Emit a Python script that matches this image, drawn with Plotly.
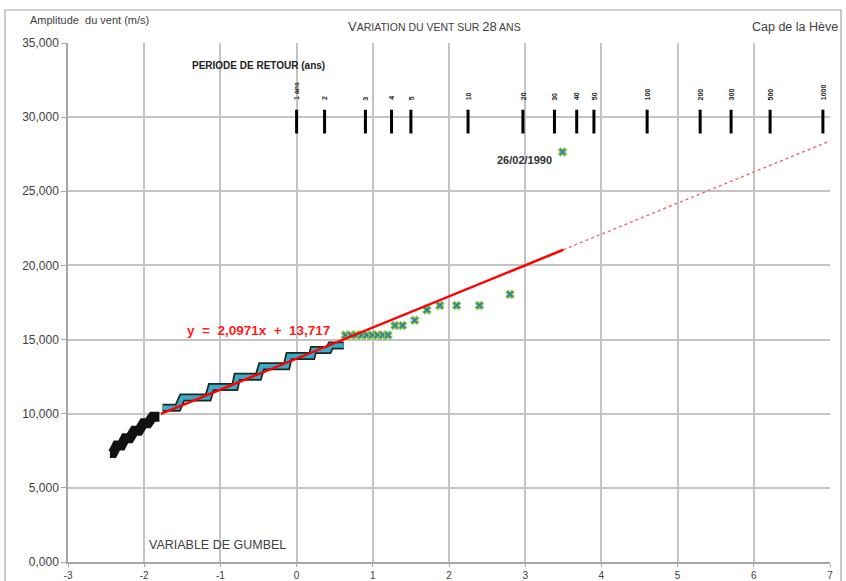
import plotly.graph_objects as go

# ---- data ----
# dense lower staircase (black band)
black_x0 = [-2.45, -2.36, -2.25, -2.13, -2.01, -1.89]
black_x1 = [-2.41, -2.30, -2.19, -2.07, -1.95, -1.80]
black_y = [7.35, 7.85, 8.35, 8.85, 9.35, 9.8]

# middle staircase (cyan band)
cyan_x0 = [-1.76, -1.50, -1.12, -0.78, -0.46, -0.10, 0.22, 0.45]
cyan_x1 = [-1.56, -1.16, -0.81, -0.50, -0.13, 0.20, 0.42, 0.62]
cyan_y = [10.4, 11.1, 11.8, 12.5, 13.2, 13.9, 14.3, 14.6]

# individual upper points
pts_x = [0.64, 0.71, 0.78, 0.85, 0.92, 0.99, 1.06, 1.13, 1.20,
         1.29, 1.39, 1.55, 1.71, 1.88, 2.10, 2.40, 2.80, 3.49]
pts_y = [15.3, 15.3, 15.3, 15.3, 15.3, 15.3, 15.3, 15.3, 15.3,
         15.95, 15.95, 16.3, 17.0, 17.3, 17.3, 17.3, 18.05, 27.65]

# trend line y = a x + b
trend_a = 2.0971
trend_b = 13.717
trend_solid_x = [-1.78, 3.5]
trend_dash_x = [3.5, 7.0]

# return periods (years) and their Gumbel-variable positions
rp_labels = ["1 ans", "2", "3", "4", "5", "10", "20", "30", "40", "50",
             "100", "200", "300", "500", "1000"]
rp_pos = [0.0, 0.367, 0.903, 1.246, 1.500, 2.250, 2.970, 3.384, 3.676,
          3.902, 4.600, 5.296, 5.702, 6.214, 6.907]
rp_bar = [28.9, 30.5]

y_ticks = [0, 5, 10, 15, 20, 25, 30, 35]
y_tick_text = ["0,000", "5,000", "10,000", "15,000", "20,000", "25,000", "30,000", "35,000"]
x_ticks = [-3, -2, -1, 0, 1, 2, 3, 4, 5, 6, 7]


def step_path(x0s, x1s, ys):
    xs, yv = [], []
    for a, b, y in zip(x0s, x1s, ys):
        xs += [a, b]
        yv += [y, y]
    return xs, yv


FONT = "Liberation Sans, Arial, sans-serif"
NARROW = "Liberation Sans Narrow, Liberation Sans, Arial, sans-serif"

fig = go.Figure()

# black band
bx, by = step_path(black_x0, black_x1, black_y)
fig.add_trace(go.Scatter(x=bx, y=by, mode="lines",
                         line=dict(color="#111111", width=10), hoverinfo="skip"))

# cyan band with dark outline
cx, cy = step_path(cyan_x0, cyan_x1, cyan_y)
fig.add_trace(go.Scatter(x=cx, y=cy, mode="lines",
                         line=dict(color="#1b2b1b", width=8), hoverinfo="skip"))
fig.add_trace(go.Scatter(x=cx, y=cy, mode="lines",
                         line=dict(color="#3aa9cc", width=4.5), hoverinfo="skip"))

# individual points
fig.add_trace(go.Scatter(x=pts_x, y=pts_y, mode="markers",
                         marker=dict(symbol="x", size=7, color="#2c7fa8",
                                     line=dict(color="#86c04a", width=1.2))))

# trend lines
fig.add_trace(go.Scatter(x=trend_solid_x, y=[trend_a * v + trend_b for v in trend_solid_x],
                         mode="lines", line=dict(color="#ff0000", width=2.5)))
fig.add_trace(go.Scatter(x=trend_dash_x, y=[trend_a * v + trend_b for v in trend_dash_x],
                         mode="lines", line=dict(color="#f07070", width=1.5, dash="3px,3px")))

# return-period bars
for p in rp_pos:
    fig.add_trace(go.Scatter(x=[p, p], y=rp_bar, mode="lines",
                             line=dict(color="#000000", width=3), hoverinfo="skip"))

annotations = []
for lab, p in zip(rp_labels, rp_pos):
    annotations.append(dict(x=p, y=31.0, xref="x", yref="y", text="<b>%s</b>" % lab,
                            textangle=-90, showarrow=False, yanchor="bottom",
                            xanchor="center", font=dict(family=NARROW, size=7, color="#222222")))

annotations += [
    dict(x=-1.40, y=33.45, xref="x", yref="y", text="<b>PERIODE DE RETOUR (ans)</b>",
         showarrow=False, xanchor="left", yanchor="middle",
         font=dict(family=NARROW, size=10, color="#222222")),
    dict(x=3.38, y=27.1, xref="x", yref="y", text="<b>26/02/1990</b>",
         showarrow=False, xanchor="right", yanchor="middle",
         font=dict(family=NARROW, size=11, color="#333333")),
    dict(x=-1.47, y=15.64, xref="x", yref="y",
         text="<b>y&nbsp;&nbsp;=&nbsp;&nbsp;2,0971x&nbsp;&nbsp;+&nbsp;&nbsp;13,717</b>",
         showarrow=False, xanchor="left", yanchor="middle",
         font=dict(family=FONT, size=13.5, color="#ff2020")),
    dict(x=-1.96, y=1.15, xref="x", yref="y", text="VARIABLE DE GUMBEL",
         showarrow=False, xanchor="left", yanchor="middle",
         font=dict(family=NARROW, size=12.5, color="#404040")),
    dict(x=(28 - 68) / 762, y=(562 - 20) / 519, xref="paper", yref="paper",
         text="Amplitude  du vent (m/s)", showarrow=False, xanchor="left", yanchor="middle",
         font=dict(family=NARROW, size=11, color="#404040")),
    dict(x=(434 - 68) / 762, y=(562 - 27) / 519, xref="paper", yref="paper",
         text="<span style='font-size:13px'>V</span>ARIATION DU VENT SUR "
              "<span style='font-size:13px'>28</span> ANS",
         showarrow=False, xanchor="center", yanchor="middle",
         font=dict(family=FONT, size=10.5, color="#404040")),
    dict(x=(840 - 68) / 762, y=(562 - 27) / 519, xref="paper", yref="paper",
         text="Cap de la Hève", showarrow=False, xanchor="right", yanchor="middle",
         font=dict(family=FONT, size=12.5, color="#404040")),
]

shapes = [dict(type="rect", xref="paper", yref="paper",
               x0=(5 - 68) / 762, x1=(841 - 68) / 762,
               y0=(562 - 590) / 519, y1=(562 - 10) / 519,
               line=dict(color="#a6a6a6", width=1.2), fillcolor="rgba(0,0,0,0)", layer="below")]

fig.update_layout(
    width=846, height=581,
    margin=dict(l=68, r=16, t=43, b=19, autoexpand=False),
    paper_bgcolor="white", plot_bgcolor="white",
    showlegend=False,
    template="none",
    annotations=annotations,
    shapes=shapes,
    xaxis=dict(range=[-3, 7], tickvals=x_ticks, ticktext=[str(v) for v in x_ticks],
               showgrid=True, gridcolor="#c4c4c4", gridwidth=1.5, zeroline=False,
               showline=True, linecolor="#a6a6a6", linewidth=1.5,
               ticks="outside", ticklen=3, tickcolor="#a6a6a6", automargin=False,
               tickfont=dict(family=NARROW, size=10, color="#404040")),
    yaxis=dict(range=[0, 35], tickvals=y_ticks, ticktext=y_tick_text,
               showgrid=True, gridcolor="#c4c4c4", gridwidth=1.5, zeroline=False,
               showline=True, linecolor="#a6a6a6", linewidth=1.5,
               ticks="outside", ticklen=5, tickcolor="#a6a6a6", automargin=False,
               tickfont=dict(family=NARROW, size=12, color="#404040")),
)

fig.write_html("out.html")
